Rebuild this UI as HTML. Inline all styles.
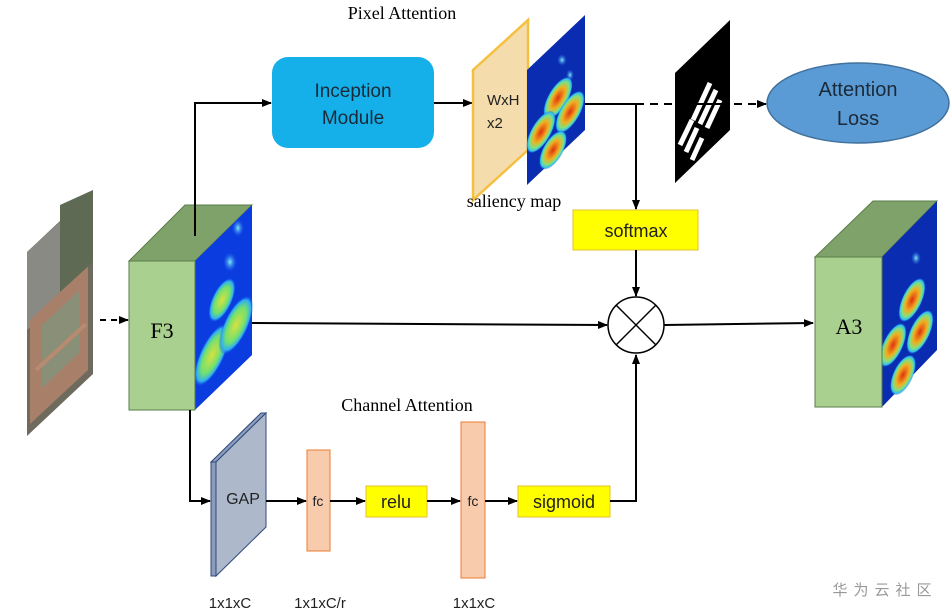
<!DOCTYPE html>
<html><head><meta charset="utf-8"><style>
html,body{margin:0;padding:0;background:#fff;}
svg{display:block}
.serif{font-family:"Liberation Serif",serif;}
.sans{font-family:"Liberation Sans","DejaVu Sans",sans-serif;}
</style></head><body>
<svg width="950" height="614" viewBox="0 0 950 614" xmlns="http://www.w3.org/2000/svg">
<defs>
<marker id="ah" markerWidth="10" markerHeight="8" refX="9" refY="4" orient="auto" markerUnits="userSpaceOnUse">
<path d="M0,0 L10,4 L0,8 z" fill="#000"/></marker>
<radialGradient id="blob" cx="50%" cy="50%" r="50%">
<stop offset="0" stop-color="#e03010"/><stop offset="0.5" stop-color="#f0b020"/><stop offset="0.75" stop-color="#80e080"/><stop offset="0.9" stop-color="#30c0f0"/><stop offset="1" stop-color="#1040e0" stop-opacity="0"/></radialGradient>
<radialGradient id="blobg" cx="50%" cy="50%" r="50%">
<stop offset="0" stop-color="#d8e040"/><stop offset="0.6" stop-color="#70e070"/><stop offset="0.85" stop-color="#30b0f0"/><stop offset="1" stop-color="#1050f0" stop-opacity="0"/></radialGradient>
<radialGradient id="dot" cx="50%" cy="50%" r="50%">
<stop offset="0" stop-color="#80f0f0"/><stop offset="1" stop-color="#2060f0" stop-opacity="0"/></radialGradient>
</defs>

<!-- satellite image -->
<polygon points="27,252 93,190 93,374 27,436" fill="#6f6a5e"/>
<polygon points="27,252 60,222 60,300 27,330" fill="#8a8a84"/>
<polygon points="30,320 88,266 88,370 30,424" fill="#a8806a"/>
<polygon points="42,325 80,290 80,352 42,388" fill="#8a8f78"/>
<polygon points="60,205 93,190 93,262 60,292" fill="#5f6a55"/>
<line x1="36" y1="370" x2="86" y2="324" stroke="#b88a70" stroke-width="4"/>

<line x1="100" y1="320" x2="128" y2="320" stroke="#000" stroke-width="2" stroke-dasharray="6,5" marker-end="url(#ah)"/>

<!-- F3 cube -->
<polygon points="129,261 185,205 252,205 195,261" fill="#7fa26a" stroke="#5a7d48"/>
<polygon points="195,261 252,205 252,355 195,410" fill="#0a3ce0"/>
<ellipse cx="238" cy="228" rx="6" ry="9" fill="url(#dot)"/>
<ellipse cx="230" cy="262" rx="7" ry="10" fill="url(#dot)"/>
<ellipse cx="212" cy="355" rx="12" ry="34" fill="url(#blobg)" transform="rotate(25 212 355)"/>
<ellipse cx="236" cy="325" rx="12" ry="32" fill="url(#blobg)" transform="rotate(25 236 325)"/>
<ellipse cx="222" cy="300" rx="10" ry="24" fill="url(#blobg)" transform="rotate(25 222 300)"/>
<rect x="129" y="261" width="66" height="149" fill="#a9d08e" stroke="#5a7d48"/>
<text x="162" y="338" text-anchor="middle" class="serif" font-size="22">F3</text>

<!-- top path -->
<polyline points="195,236 195,103 271,103" fill="none" stroke="#000" stroke-width="2" marker-end="url(#ah)"/>
<rect x="272" y="57" width="162" height="91" rx="16" fill="#15b0ea"/>
<text x="353" y="97" text-anchor="middle" class="sans" font-size="19" fill="#1b2a38">Inception</text>
<text x="353" y="124" text-anchor="middle" class="sans" font-size="19" fill="#1b2a38">Module</text>
<text x="402" y="19" text-anchor="middle" class="serif" font-size="18">Pixel Attention</text>
<line x1="434" y1="103" x2="472" y2="103" stroke="#000" stroke-width="2" marker-end="url(#ah)"/>

<polygon points="473,70 528,20 528,150 473,200" fill="#f4dcac" stroke="#f5c040" stroke-width="2.5"/>
<text x="487" y="105" class="sans" font-size="15" fill="#222">WxH</text>
<text x="487" y="128" class="sans" font-size="15" fill="#222">x2</text>
<polygon points="527,70 585,15 585,130 527,185" fill="#0a2cb0"/>
<ellipse cx="562" cy="60" rx="5" ry="6" fill="url(#dot)"/>
<ellipse cx="570" cy="75" rx="4" ry="6" fill="url(#dot)"/>
<ellipse cx="558" cy="98" rx="10" ry="24" fill="url(#blob)" transform="rotate(30 558 98)"/>
<ellipse cx="570" cy="112" rx="10" ry="24" fill="url(#blob)" transform="rotate(30 570 112)"/>
<ellipse cx="541" cy="132" rx="10" ry="24" fill="url(#blob)" transform="rotate(30 541 132)"/>
<ellipse cx="553" cy="150" rx="10" ry="22" fill="url(#blob)" transform="rotate(30 553 150)"/>
<text x="514" y="207" text-anchor="middle" class="serif" font-size="18">saliency map</text>

<line x1="585" y1="104" x2="636" y2="104" stroke="#000" stroke-width="2"/>
<line x1="636" y1="104" x2="766" y2="104" stroke="#000" stroke-width="2" stroke-dasharray="8,6" marker-end="url(#ah)"/>
<line x1="636" y1="104" x2="636" y2="209" stroke="#000" stroke-width="2" marker-end="url(#ah)"/>

<polygon points="675,73 730,20 730,130 675,183" fill="#000"/>
<g stroke="#fff" stroke-width="5">
<line x1="693" y1="120" x2="710" y2="83"/><line x1="700" y1="124" x2="716" y2="90"/><line x1="707" y1="128" x2="720" y2="100"/>
<line x1="680" y1="145" x2="692" y2="120"/><line x1="686" y1="152" x2="697" y2="128"/><line x1="692" y1="160" x2="702" y2="138"/>
</g>
<line x1="675" y1="104" x2="730" y2="104" stroke="#000" stroke-width="2"/>
<ellipse cx="858" cy="103" rx="91" ry="40" fill="#5b9bd5" stroke="#41719c" stroke-width="1.5"/>
<text x="858" y="96" text-anchor="middle" class="sans" font-size="20" fill="#1b2a38">Attention</text>
<text x="858" y="125" text-anchor="middle" class="sans" font-size="20" fill="#1b2a38">Loss</text>

<rect x="573" y="210" width="125" height="40" fill="#ffff00" stroke="#e6c030"/>
<text x="636" y="237" text-anchor="middle" class="sans" font-size="18" fill="#222">softmax</text>
<line x1="636" y1="250" x2="636" y2="296" stroke="#000" stroke-width="2" marker-end="url(#ah)"/>

<circle cx="636" cy="325" r="28" fill="#fff" stroke="#000" stroke-width="1.5"/>
<line x1="616" y1="305" x2="656" y2="345" stroke="#000" stroke-width="1.5"/>
<line x1="656" y1="305" x2="616" y2="345" stroke="#000" stroke-width="1.5"/>
<line x1="252" y1="323" x2="607" y2="325" stroke="#000" stroke-width="2" marker-end="url(#ah)"/>
<line x1="664" y1="325" x2="813" y2="323" stroke="#000" stroke-width="2" marker-end="url(#ah)"/>

<!-- A3 cube -->
<polygon points="815,257 873,201 937,201 882,257" fill="#7fa26a" stroke="#5a7d48"/>
<polygon points="882,257 937,201 937,350 882,407" fill="#0a2cb0"/>
<ellipse cx="916" cy="258" rx="5" ry="7" fill="url(#dot)"/>
<ellipse cx="912" cy="300" rx="10" ry="24" fill="url(#blob)" transform="rotate(25 912 300)"/>
<ellipse cx="920" cy="332" rx="10" ry="24" fill="url(#blob)" transform="rotate(25 920 332)"/>
<ellipse cx="893" cy="345" rx="10" ry="24" fill="url(#blob)" transform="rotate(25 893 345)"/>
<ellipse cx="903" cy="375" rx="10" ry="22" fill="url(#blob)" transform="rotate(25 903 375)"/>
<rect x="815" y="257" width="67" height="150" fill="#a9d08e" stroke="#5a7d48"/>
<text x="849" y="334" text-anchor="middle" class="serif" font-size="22">A3</text>

<!-- channel attention -->
<text x="407" y="411" text-anchor="middle" class="serif" font-size="18">Channel Attention</text>
<polyline points="190,410 190,501 210,501" fill="none" stroke="#000" stroke-width="2" marker-end="url(#ah)"/>
<polygon points="211,462 261,413 266,413 216,462" fill="#8c9bb8" stroke="#2f4a80"/>
<polygon points="216,462 266,413 266,527 216,576" fill="#adb9ca" stroke="#2f4a80"/>
<polygon points="211,462 216,462 216,576 211,576" fill="#8c9bb8" stroke="#2f4a80"/>
<text x="243" y="504" text-anchor="middle" class="sans" font-size="16" fill="#222">GAP</text>
<line x1="266" y1="501" x2="306" y2="501" stroke="#000" stroke-width="2" marker-end="url(#ah)"/>
<rect x="307" y="450" width="23" height="101" fill="#f8cbad" stroke="#ed7d31"/>
<text x="318" y="506" text-anchor="middle" class="sans" font-size="14" fill="#222">fc</text>
<line x1="330" y1="501" x2="365" y2="501" stroke="#000" stroke-width="2" marker-end="url(#ah)"/>
<rect x="366" y="486" width="61" height="31" fill="#ffff00" stroke="#e6c030"/>
<text x="396" y="508" text-anchor="middle" class="sans" font-size="18" fill="#222">relu</text>
<line x1="427" y1="501" x2="460" y2="501" stroke="#000" stroke-width="2" marker-end="url(#ah)"/>
<rect x="461" y="422" width="24" height="156" fill="#f8cbad" stroke="#ed7d31"/>
<text x="473" y="506" text-anchor="middle" class="sans" font-size="14" fill="#222">fc</text>
<line x1="485" y1="501" x2="517" y2="501" stroke="#000" stroke-width="2" marker-end="url(#ah)"/>
<rect x="518" y="486" width="92" height="31" fill="#ffff00" stroke="#e6c030"/>
<text x="564" y="508" text-anchor="middle" class="sans" font-size="18" fill="#222">sigmoid</text>
<polyline points="610,501 636,501 636,355" fill="none" stroke="#000" stroke-width="2" marker-end="url(#ah)"/>

<text x="230" y="608" text-anchor="middle" class="sans" font-size="15" fill="#222">1x1xC</text>
<text x="320" y="608" text-anchor="middle" class="sans" font-size="15" fill="#222">1x1xC/r</text>
<text x="474" y="608" text-anchor="middle" class="sans" font-size="15" fill="#222">1x1xC</text>
<text x="885" y="595" text-anchor="middle" font-family="'Liberation Sans','Noto Sans CJK SC',sans-serif" font-size="15" fill="#999" letter-spacing="6">华为云社区</text>
</svg>
</body></html>
